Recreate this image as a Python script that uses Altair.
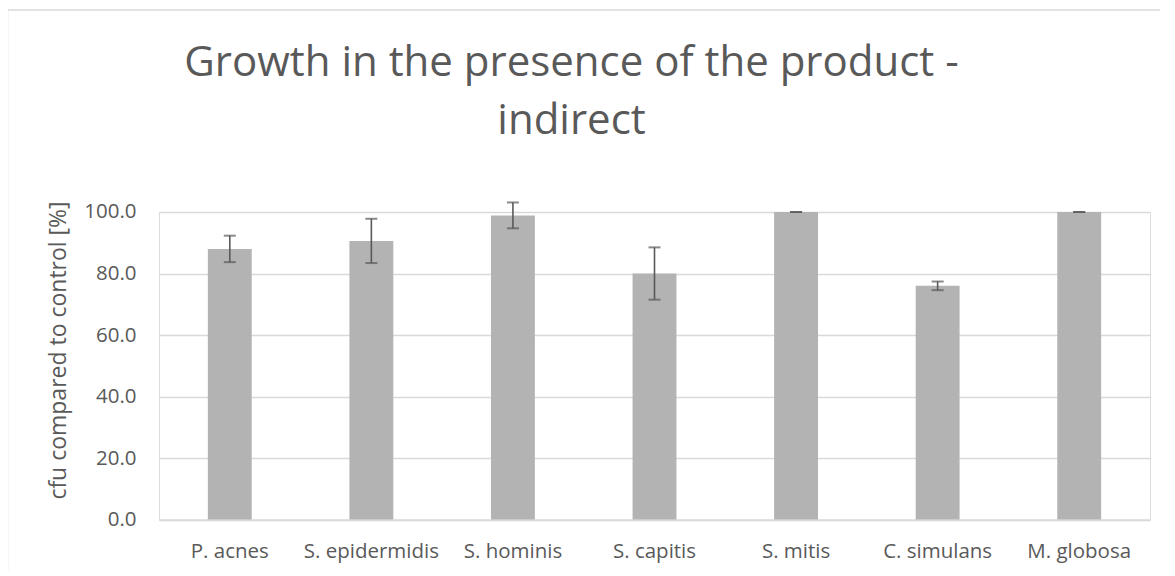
import altair as alt
import pandas as pd

species = ["P. acnes", "S. epidermidis", "S. hominis", "S. capitis",
           "S. mitis", "C. simulans", "M. globosa"]
values = [88.0, 90.6, 98.9, 80.0, 100.0, 76.0, 100.0]
errors = [4.3, 7.2, 4.2, 8.5, 0.0, 1.4, 0.0]
y_ticks = [0, 20, 40, 60, 80, 100]

df = pd.DataFrame({"species": species, "value": values, "err": errors})

FONT = "Open Sans"
TXT = "#595959"
GRID = "#d9d9d9"

base = alt.Chart(df).transform_calculate(
    lo="datum.value - datum.err", hi="datum.value + datum.err"
)

x_enc = alt.X(
    "species:N", sort=species, title=None,
    scale=alt.Scale(paddingInner=0.69, paddingOuter=0.345),
    axis=alt.Axis(labelAngle=0, ticks=False, tickSize=0, labelPadding=22,
                  labelFontSize=20.5, labelFont=FONT, labelColor=TXT,
                  domainColor=GRID, domainWidth=1.3, grid=False),
)
y_scale = alt.Scale(domain=[0, 100], nice=False)

bars = base.mark_bar(color="#b3b3b3").encode(
    x=x_enc,
    y=alt.Y("value:Q", scale=y_scale, title="cfu compared to control [%]",
            axis=alt.Axis(values=y_ticks, format=".1f", ticks=False, tickSize=0,
                          domain=False, labelPadding=23, labelFontSize=20.5,
                          labelFont=FONT, labelColor=TXT, gridColor=GRID,
                          gridWidth=1.3, titleFont=FONT, titleFontSize=23,
                          titleColor=TXT, titleFontWeight="normal",
                          titleAngle=-90, titleAlign="center",
                          titleBaseline="middle", titleX=-101, titleY=138)),
)

err_rule = base.mark_rule(color="#595959", strokeWidth=1.6).encode(
    x=alt.X("species:N", sort=species),
    y=alt.Y("lo:Q", scale=y_scale),
    y2="hi:Q",
)
cap_hi = base.mark_tick(color="#595959", size=12, thickness=2).encode(
    x=alt.X("species:N", sort=species),
    y=alt.Y("hi:Q", scale=y_scale),
)
cap_lo = base.mark_tick(color="#595959", size=12, thickness=2).encode(
    x=alt.X("species:N", sort=species),
    y=alt.Y("lo:Q", scale=y_scale),
)

frame_src = alt.Chart(alt.Data(values=[{}]))
frame_left = frame_src.mark_rule(color=GRID, strokeWidth=1.5).encode(
    x=alt.value(-151.5), y=alt.value(-202), y2=alt.value(420)
)
frame_top = frame_src.mark_rule(color=GRID, strokeWidth=1.5).encode(
    x=alt.value(-152), x2=alt.value(1100), y=alt.value(-202)
)

chart = alt.layer(bars, err_rule, cap_hi, cap_lo, frame_left, frame_top).properties(
    width=991,
    height=307.6,
    title=alt.Title(
        ["Growth in the presence of the product -", "indirect"],
        font=FONT, fontSize=42, fontWeight="normal", color=TXT,
        anchor="middle", frame="group", dx=-83, lineHeight=58, offset=16,
        baseline="alphabetic", dy=183,
    ),
    autosize=alt.AutoSizeParams(type="none"),
    padding={"left": 151, "top": 204, "right": 10, "bottom": 50},
).configure_view(stroke=None).configure(background="white")

chart.save("out.html", embed_options={"renderer": "svg", "actions": False})
